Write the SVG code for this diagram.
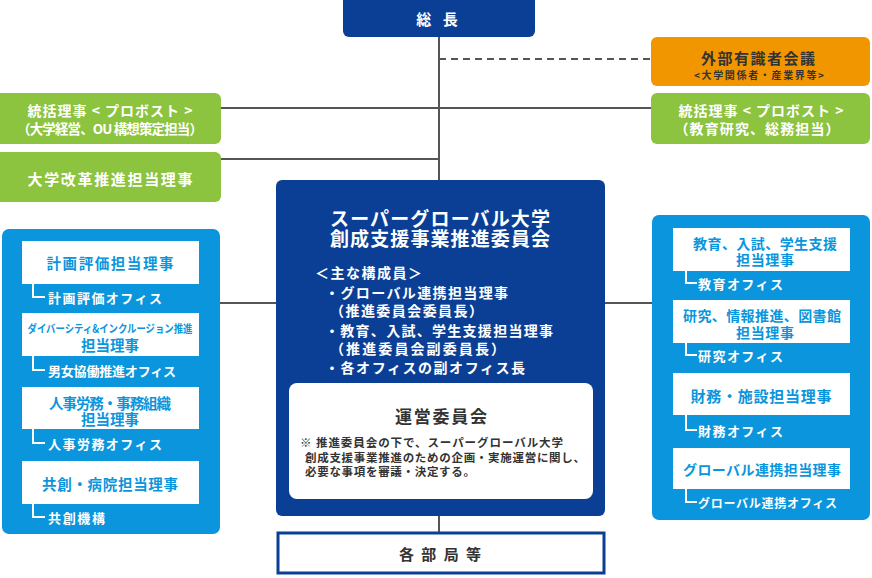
<svg xmlns="http://www.w3.org/2000/svg" width="872" height="578" viewBox="0 0 872 578">
<style>
text{font-family:"Noto Sans CJK JP","Noto Sans",sans-serif;font-weight:700;dominant-baseline:central}
.w{fill:#fff}
.b{fill:#0a95dc}
.d{fill:#333}
.navy{fill:#0b3f95}
.green{fill:#8cc33f}
.panel{fill:#0a95dc}
.conn{stroke:#555;stroke-width:2;fill:none}
.br{stroke:#fff;stroke-width:2;fill:none}
</style>
<g id="connectors">
<line class="conn" x1="439" y1="37" x2="439" y2="180"/>
<line class="conn" x1="439" y1="59" x2="651" y2="59" stroke-dasharray="7,5"/>
<line class="conn" x1="221" y1="108" x2="651" y2="108"/>
<line class="conn" x1="221" y1="159" x2="439" y2="159"/>
<line class="conn" x1="220" y1="303" x2="276" y2="303"/>
<line class="conn" x1="605" y1="303" x2="652" y2="303"/>
<line class="conn" x1="439" y1="516" x2="439" y2="532"/>
</g>
<g id="president">
<rect class="navy" x="343" y="-6" width="192" height="43" rx="6"/>
<text class="w" x="439" y="18" text-anchor="middle" font-size="15" letter-spacing="4">総 長</text>
</g>
<g id="external">
<rect fill="#f29600" x="651" y="37" width="219" height="49" rx="6"/>
<text class="d" x="758" y="57" text-anchor="middle" font-size="15" textLength="114">外部有識者会議</text>
<text class="d" x="759" y="74" text-anchor="middle" font-size="10" textLength="130">&lt;大学関係者・産業界等&gt;</text>
</g>
<g id="provost-left">
<rect class="green" x="-6" y="93" width="227" height="51" rx="6"/>
<text class="w" x="110" y="110" text-anchor="middle" font-size="14" textLength="165">統括理事 &lt; プロボスト &gt;</text>
<text class="w" x="110" y="128" text-anchor="middle" font-size="13.5" textLength="186">（大学経営、OU 構想策定担当）</text>
</g>
<g id="reform">
<rect class="green" x="-6" y="152" width="227" height="50" rx="6"/>
<text class="w" x="110" y="178" text-anchor="middle" font-size="15" textLength="165">大学改革推進担当理事</text>
</g>
<g id="provost-right">
<rect class="green" x="651" y="93" width="219" height="51" rx="6"/>
<text class="w" x="761" y="110" text-anchor="middle" font-size="14" textLength="165">統括理事 &lt; プロボスト &gt;</text>
<text class="w" x="757" y="128" text-anchor="middle" font-size="14" textLength="165">（教育研究、総務担当）</text>
</g>
<g id="committee">
<rect class="navy" x="276" y="180" width="329" height="336" rx="6"/>
<text class="w" x="440" y="217" text-anchor="middle" font-size="19" textLength="220">スーパーグローバル大学</text>
<text class="w" x="440" y="237" text-anchor="middle" font-size="19" textLength="220">創成支援事業推進委員会</text>
<text class="w" x="315" y="272" font-size="14" textLength="107">＜主な構成員＞</text>
<text class="w" x="325" y="292" font-size="14" textLength="183">・グローバル連携担当理事</text>
<text class="w" x="330" y="310" font-size="14" textLength="153">（推進委員会委員長）</text>
<text class="w" x="325" y="330" font-size="14" textLength="228">・教育、入試、学生支援担当理事</text>
<text class="w" x="330" y="348" font-size="14" textLength="175">（推進委員会副委員長）</text>
<text class="w" x="325" y="367" font-size="14" textLength="200">・各オフィスの副オフィス長</text>
</g>
<g id="steering">
<rect fill="#fff" x="289" y="383" width="304" height="116" rx="8"/>
<text class="d" x="441" y="415" text-anchor="middle" font-size="17" textLength="92">運営委員会</text>
<text class="d" x="300" y="442" font-size="11.5" textLength="263">※ 推進委員会の下で、スーパーグローバル大学</text>
<text class="d" x="305" y="457" font-size="11.5" textLength="280">創成支援事業推進のための企画・実施運営に関し、</text>
<text class="d" x="305" y="471" font-size="11.5" textLength="170">必要な事項を審議・決定する。</text>
</g>
<g id="departments">
<rect fill="#fff" stroke="#0b3f95" stroke-width="3" x="278" y="533" width="326" height="40"/>
<text class="d" x="440" y="553" text-anchor="middle" font-size="15" textLength="82">各 部 局 等</text>
</g>
<g id="left-panel">
<rect class="panel" x="2" y="229" width="218" height="305" rx="7"/>
<rect fill="#fff" x="22" y="241" width="177" height="43"/>
<text class="b" x="110" y="262" text-anchor="middle" font-size="14.5" textLength="127">計画評価担当理事</text>
<path class="br" d="M33 284V297H45"/>
<text class="w" x="48" y="297" font-size="13" textLength="114">計画評価オフィス</text>
<rect fill="#fff" x="22" y="313" width="177" height="43"/>
<text class="b" x="110" y="328" text-anchor="middle" font-size="11" textLength="165" lengthAdjust="spacingAndGlyphs">ダイバーシティ&amp;インクルージョン推進</text>
<text class="b" x="110" y="344" text-anchor="middle" font-size="14.5" textLength="58">担当理事</text>
<path class="br" d="M33 356V370H45"/>
<text class="w" x="48" y="370" font-size="13" textLength="128">男女協働推進オフィス</text>
<rect fill="#fff" x="22" y="387" width="177" height="42"/>
<text class="b" x="110" y="402" text-anchor="middle" font-size="14.5" textLength="122">人事労務・事務組織</text>
<text class="b" x="110" y="418" text-anchor="middle" font-size="14.5" textLength="58">担当理事</text>
<path class="br" d="M33 429V443H45"/>
<text class="w" x="48" y="443" font-size="13" textLength="114">人事労務オフィス</text>
<rect fill="#fff" x="22" y="461" width="177" height="43"/>
<text class="b" x="110" y="483" text-anchor="middle" font-size="14.5" textLength="136">共創・病院担当理事</text>
<path class="br" d="M33 504V517H45"/>
<text class="w" x="48" y="517" font-size="13" textLength="57">共創機構</text>
</g>
<g id="right-panel">
<rect class="panel" x="652" y="215" width="218" height="305" rx="7"/>
<rect fill="#fff" x="673" y="228" width="177" height="43"/>
<text class="b" x="765" y="243" text-anchor="middle" font-size="14" textLength="144">教育、入試、学生支援</text>
<text class="b" x="765" y="259" text-anchor="middle" font-size="14" textLength="58">担当理事</text>
<path class="br" d="M686 271V283H697"/>
<text class="w" x="698" y="283" font-size="13" textLength="85">教育オフィス</text>
<rect fill="#fff" x="673" y="300" width="177" height="43"/>
<text class="b" x="762" y="315" text-anchor="middle" font-size="14" textLength="158">研究、情報推進、図書館</text>
<text class="b" x="765" y="332" text-anchor="middle" font-size="14" textLength="58">担当理事</text>
<path class="br" d="M686 343V355H697"/>
<text class="w" x="698" y="355" font-size="13" textLength="85">研究オフィス</text>
<rect fill="#fff" x="673" y="373" width="177" height="42"/>
<text class="b" x="761" y="395" text-anchor="middle" font-size="15" textLength="141">財務・施設担当理事</text>
<path class="br" d="M686 415V430H697"/>
<text class="w" x="698" y="430" font-size="13" textLength="85">財務オフィス</text>
<rect fill="#fff" x="673" y="448" width="177" height="41"/>
<text class="b" x="762" y="469" text-anchor="middle" font-size="14" textLength="158">グローバル連携担当理事</text>
<path class="br" d="M686 489V502H697"/>
<text class="w" x="698" y="502" font-size="12" textLength="139">グローバル連携オフィス</text>
</g>
</svg>
